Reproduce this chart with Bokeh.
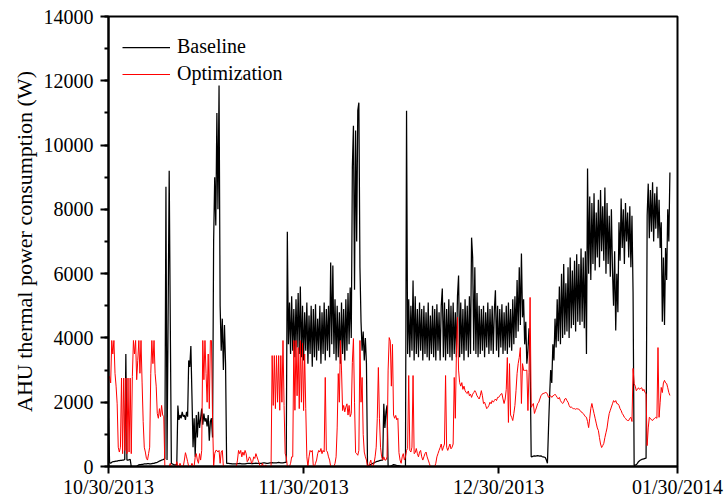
from bokeh.plotting import figure
from bokeh.models import Range1d, FixedTicker, SingleIntervalTicker, Legend, LegendItem
from bokeh.embed import file_html
from bokeh.resources import INLINE

# ---------------- data ----------------
STEP_H = 4  # sampling interval of both series, hours
tick_hours = [0, 720, 1440, 2100]
tick_labels = ["10/30/2013", "11/30/2013", "12/30/2013", "01/30/2014"]

# Baseline AHU thermal power (W), one value every 4 h
base_oct = [
    1500, 120, 100, 130, 150, 150, 160, 170, 170, 180,
    180, 190, 190, 200, 200, 220, 3500, 200, 200, 210,
    220, 0, 0, 0, 0, 0, 0, 30, 50, 60,
    60, 70, 70, 80, 80, 80, 90, 90, 80, 80,
    90, 100, 100, 110, 120, 130, 150, 170, 180, 200,
    210, 220, 250, 8700, 200, 4600, 9200, 4500, 100, 80,
    60, 50, 50, 60, 1900, 1450, 1600, 1500, 1700, 1550,
    1600, 1450, 1700, 1550, 3300, 3100, 3750, 2200, 600, 1500,
    300, 1600, 900, 1700, 1200, 1500, 1800, 1300, 1650, 1400,
    1500, 1250, 1600, 800, 1400, 1500, 900, 7000, 9000, 7500,
    11000, 8000, 11850, 5000, 3600, 4600, 3000, 4400, 3200, 100,
]
base_nov_off = [
    100, 95, 90, 90, 85, 85, 80, 80, 85, 90,
    90, 95, 90, 85, 80, 80, 85, 90, 95, 100,
    100, 95, 90, 90, 95, 100, 105, 100, 100, 95,
    95, 100, 105, 110, 110, 105, 100, 100, 105, 110,
    115, 120, 115, 110, 110, 115, 120, 125, 120, 115,
    110, 115, 120, 125, 130,
]
base_nov_on = [
    7300,
    3800, 5100, 3500, 5300, 3600, 4900, 3400, 5200, 3700, 5400, 3500, 5600,
    3400, 5000, 3300, 4800, 3600, 5100, 3200, 4700, 3500, 5000,
    3100, 4900, 3400, 5050, 3300, 4600, 3600, 5000, 3200, 4800,
    3500, 5100, 3300, 4900, 3600, 5000, 3400,
    6350, 3800, 6250, 3500, 5200, 3300,
    5000, 3400, 4800, 3200, 5100, 3500, 4900, 3300,
    5200, 3600, 5400, 3800, 5570, 4000,
    9300, 10600, 5500, 10450, 7000, 11070, 11320, 6200, 4500, 3600,
    4200, 3300, 4000, 3200, 0,
]
base_dec_off = [
    30, 40, 60, 80, 100, 110, 130, 150, 160, 170, 180, 190, 200, 200,
    1950, 1200, 1700, 1900, 0,
    0, 0, 20, 40, 60, 50, 40, 30, 30, 20, 10, 0, 0, 0, 0, 0,
]
base_dec_on = [
    11070,
    3500, 5200, 3400, 5000, 3600, 5790, 3300, 5300, 3500, 4900, 3400, 5100, 3600,
    4900, 3300, 5000, 3500, 4800, 3400, 5100, 3300, 4700, 3500,
    5000, 3400, 4900, 3300, 5050, 3600, 4800,
    3300, 5000, 5540, 3400, 5100, 3300, 4900, 3500, 5200, 3400,
    5000, 3300, 5100, 3500, 4800, 3400, 5300,
    5940,
    3400, 5100, 3500, 4900, 3300, 5200, 3600, 5000, 3400, 5300,
    3500, 7120, 6500, 3600, 6200, 3500, 5400, 3400, 5000,
    3500, 4900, 3600, 5000, 3400, 4800, 3700, 5100, 3500, 4900,
    3600, 5000, 3500, 4850, 5480, 3600, 5000, 3400, 4900, 3700,
    5050, 3500, 4800, 3600, 5000, 3500, 5100, 3700, 4900, 3600, 5200,
    3800, 5300, 4000, 5800, 4200, 6200, 4400, 6630,
    4640, 5200, 3800, 4500, 3200, 3600, 4300, 3300,
]
base_jan = [
    300, 310, 320, 330, 320, 330, 340, 330, 320, 330, 310, 300, 290, 280, 200,
    100, 1200, 2200, 3000, 2600, 3800, 3300,
    4600, 3700, 5200, 3900, 5600, 3800, 6000, 4000, 6300, 4100,
    5700, 4200, 6200, 4000, 6500, 4300, 6100, 4400, 6400, 4200,
    6600, 4500, 6300, 4400, 6780, 4500, 6500, 4300, 6700, 3500,
    9270,
    6000, 8400, 5800, 8200, 6300, 8500, 6100, 7900, 6500, 8300,
    6200, 8600, 6700, 8100, 6400, 8680, 6000, 8200, 6300, 7800,
    5900, 8000, 6100,
    5000, 6700, 4230, 6000, 4800,
    7600, 6400, 8340, 6800, 8000, 6300, 8200, 7000, 7900, 6500,
    8100, 6200, 7800, 5400,
    30,
    40, 60, 100, 150, 180, 200, 220, 230, 240, 250, 260,
    7800, 8800, 7100, 8600, 7300, 8840, 7000, 8500, 7400, 8700,
    7100, 8300, 6800,
    7600, 4500, 6500, 4400, 6800, 5800, 8000, 7000, 9150,
]
baseline = base_oct + base_nov_off + base_nov_on + base_dec_off + base_dec_on + base_jan

# Optimization AHU thermal power (W), one value every 4 h
optimization = [
    2740, 2800, 2600, 3920, 3500, 3920, 2900, 2500, 1950, 600,
    450, 600, 2750, 400, 2750, 500, 2750, 400, 2750, 450,
    2750, 400, 2800, 3920, 3500, 3920, 2700, 3300, 3920, 2900,
    3920, 2600, 1400, 600, 450, 250, 200, 400, 600, 2900,
    3920, 3200, 3920, 2900, 2500, 1650, 1500, 1800, 1550, 1900,
    1600, 1550, 0, 0, 0, 0, 0, 100, 0, 0,
    0, 0, 0, 150, 0, 0, 100, 0, 0, 0,
    200, 430, 300, 150, 0, 0, 0, 100, 0, 0,
    300, 400, 200, 100, 400, 200, 500, 3920, 2700, 3920,
    2900, 2000, 3500, 1800, 3920, 3920, 1500, 0, 400, 500,
    500, 450, 500, 100, 450, 500, 0, 0, 0, 0,
    0, 0, 0, 0, 0, 0, 0, 0, 0, 200,
    500, 400, 500, 300, 450, 350, 500, 400, 150, 200,
    300, 250, 100, 150, 300, 250, 400, 300, 200, 100,
    0, 0, 100, 0, 0, 50, 0, 0, 0, 0,
    0, 3450, 1900, 3450, 1800, 3450, 2000, 3450, 1750, 3450,
    2000, 3920, 1900, 400, 300, 0, 0, 0, 100, 300,
    300, 3920, 1750, 3920, 2200, 3700, 1800, 3920, 2000, 3830,
    1740, 3500, 1800, 300, 0, 300, 500, 450, 500, 0,
    0, 100, 200, 400, 500, 450, 560, 400, 500, 450,
    2770, 500, 450, 300, 200, 0, 0, 0, 0, 100,
    300, 1200, 2890, 2000, 3920, 3000, 1740, 1900, 1700, 1850,
    1950, 1600, 1900, 1550, 1650, 3240, 3980, 2000, 430, 400,
    350, 500, 3920, 2000, 2770, 1000, 450, 300, 200, 0,
    0, 100, 200, 0, 0, 100, 300, 600, 1500, 3080,
    1500, 600, 300, 200, 300, 200, 200, 300, 3000, 4010,
    3900, 2500, 3800, 1600, 1500, 1590, 1450, 1500, 430, 200,
    100, 300, 400, 200, 300, 500, 560, 2830, 500, 450,
    600, 2830, 400, 430, 560, 400, 300, 450, 500, 300,
    200, 300, 400, 450, 300, 200, 100, 0, 0, 0,
    0, 0, 100, 300, 400, 500, 590, 700, 500, 600,
    700, 2830, 600, 500, 600, 700, 550, 600, 700, 2770,
    1500, 3500, 4640, 3000, 2610, 2500, 2610, 2400, 2500, 2360,
    2300, 2270, 2350, 2200, 2250, 2150, 2250, 2300, 2360, 2300,
    2200, 2150, 2100, 2200, 2360, 2200, 1960, 2000, 1900, 1800,
    1840, 1900, 2000, 1950, 2050, 2000, 2050, 2100, 2050, 2150,
    2150, 2200, 2250, 2270, 2100, 1960, 2100, 2400, 3390, 1370,
    3200, 1600, 1530, 1430, 1650, 1900, 2360, 2900, 3200, 3390,
    3700, 1960, 3200, 2990, 2990, 2990, 3000, 1740, 2930, 5260,
    1840, 1900, 1960, 1650, 1750, 1850, 1960, 2000, 2100, 2200,
    2250, 2270, 2280, 2300, 2300, 2250, 2150, 2180, 2200, 2150,
    2200, 2210, 2250, 2200, 2150, 2100, 2150, 2050, 2000, 1960,
    2000, 2100, 2120, 2050, 2000, 1900, 1840, 1850, 1820, 1800,
    1800, 1780, 1800, 1790, 1780, 1750, 1700, 1680, 1650, 1600,
    1550, 1530, 1400, 1210, 1500, 1800, 1960, 1800, 1650, 1500,
    1350, 1200, 1120, 900, 700, 590, 650, 720, 900, 1050,
    1200, 1450, 1650, 1750, 1850, 1950, 2050, 2000, 2050, 1960,
    1950, 1900, 1800, 1740, 1650, 1600, 1530, 1500, 1450, 1430,
    1430, 1500, 1530, 1400, 3050, 2580, 2500, 2360, 2400, 2450,
    2400, 2430, 2450, 2350, 2400, 2300, 2270, 650, 1200, 1530,
    1500, 1450, 1430, 1480, 1500, 1530, 1500, 3700, 1530, 2000,
    2460, 2300, 2600, 2680, 2600, 2580, 2450, 2300, 2210,
]

x_base = [i * STEP_H for i in range(len(baseline))]
x_opt = [i * STEP_H for i in range(len(optimization))]

# ---------------- figure ----------------
FONT = "Liberation Serif"
p = figure(width=725, height=501, output_backend="svg", toolbar_location=None,
           x_range=Range1d(tick_hours[0], tick_hours[-1]), y_range=Range1d(0, 14000),
           min_border_left=108, min_border_right=48, min_border_top=16,
           min_border_bottom=35)
p.background_fill_color = "white"
p.border_fill_color = "white"
p.outline_line_color = "black"
p.outline_line_width = 2
p.outline_line_alpha = 1
p.xgrid.visible = False
p.ygrid.visible = False

rb = p.line(x_base, baseline, line_color="black", line_width=1.25)
ro = p.line(x_opt, optimization, line_color="#ff0000", line_width=1)

# x axis
xa = p.xaxis[0]
xa.ticker = FixedTicker(ticks=tick_hours, minor_ticks=[])
xa.major_label_overrides = {t: l for t, l in zip(tick_hours, tick_labels)}
xa.major_tick_in = 0
xa.major_tick_out = 7
xa.minor_tick_in = 0
xa.minor_tick_out = 0
xa.major_tick_line_width = 2
xa.axis_line_width = 2
xa.major_label_standoff = 2
xa.major_label_text_font = FONT
xa.major_label_text_font_size = "20px"
xa.major_label_text_color = "black"

# y axis
ya = p.yaxis[0]
ya.ticker = SingleIntervalTicker(interval=2000, num_minor_ticks=2)
ya.major_tick_in = 0
ya.major_tick_out = 8
ya.minor_tick_in = 0
ya.minor_tick_out = 4
ya.major_tick_line_width = 2
ya.minor_tick_line_width = 2
ya.axis_line_width = 2
ya.major_label_standoff = 7
ya.major_label_text_font = FONT
ya.major_label_text_font_size = "20px"
ya.major_label_text_color = "black"
ya.axis_label = "AHU thermal power consumption (W)"
ya.axis_label_text_font = FONT
ya.axis_label_text_font_style = "normal"
ya.axis_label_text_font_size = "22px"
ya.axis_label_text_color = "black"
ya.axis_label_standoff = 4

legend = Legend(items=[LegendItem(label="Baseline", renderers=[rb]),
                       LegendItem(label="Optimization", renderers=[ro])],
                location=(14, 381), orientation="vertical",
                glyph_width=48, glyph_height=20, label_height=20,
                label_standoff=7, spacing=4, padding=0, margin=0,
                border_line_color=None, background_fill_alpha=0,
                label_text_font=FONT, label_text_font_size="20px",
                label_text_color="black")
p.add_layout(legend)

open("out.html", "w").write(file_html(p, INLINE))
